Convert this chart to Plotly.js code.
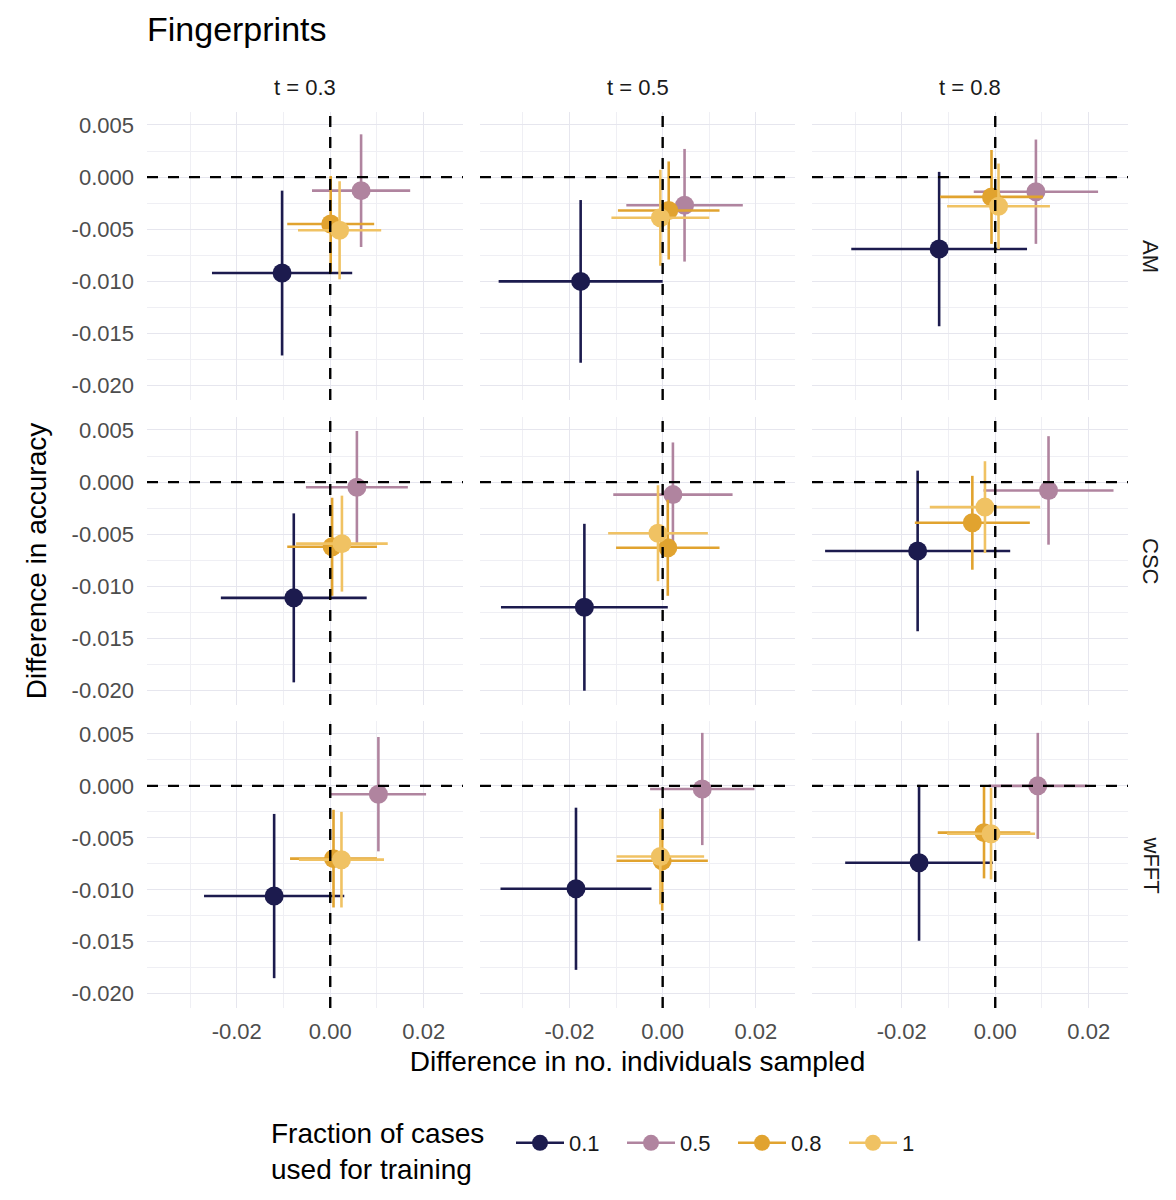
<!DOCTYPE html>
<html>
<head>
<meta charset="utf-8">
<script src="https://cdn.plot.ly/plotly-3.0.1.min.js"></script>
<style>
  html, body { margin: 0; padding: 0; background: #ffffff; }
  #chart { width: 1176px; height: 1200px; }
</style>
</head>
<body>
<div id="chart"></div>
<script>
// Facets: rows = method, columns = threshold t
const rowLabels = ['AM', 'CSC', 'wFFT'];
const colLabels = ['t = 0.3', 't = 0.5', 't = 0.8'];
const fractions = ['0.1', '0.5', '0.8', '1'];

// Panel order: AM t=0.3, AM t=0.5, AM t=0.8, CSC ..., wFFT ...
const x01  = [-0.0103, -0.0176, -0.0120, -0.0078, -0.0168, -0.0166, -0.0120, -0.0186, -0.0163];
const xe01 = [0.0150, 0.0176, 0.0188, 0.0156, 0.0179, 0.0198, 0.0150, 0.0162, 0.0158];
const y01  = [-0.0092, -0.0100, -0.0069, -0.0111, -0.0120, -0.0066, -0.0106, -0.0099, -0.0074];
const ye01 = [0.0079, 0.0078, 0.0074, 0.0081, 0.0080, 0.0077, 0.0079, 0.0078, 0.0075];

const x05  = [0.0066, 0.0047, 0.0087, 0.0057, 0.0022, 0.0114, 0.0103, 0.0085, 0.0091];
const xe05 = [0.0105, 0.0125, 0.0133, 0.0109, 0.0128, 0.0139, 0.0102, 0.0112, 0.0105];
const y05  = [-0.0013, -0.0027, -0.0014, -0.0005, -0.0012, -0.0008, -0.0008, -0.0003, 0.0000];
const ye05 = [0.0054, 0.0054, 0.0050, 0.0054, 0.0050, 0.0052, 0.0055, 0.0054, 0.0051];

const x08  = [0.0001, 0.0013, -0.0008, 0.0004, 0.0011, -0.0049, 0.0007, -0.0001, -0.0024];
const xe08 = [0.0093, 0.0109, 0.0110, 0.0096, 0.0111, 0.0123, 0.0093, 0.0098, 0.0099];
const y08  = [-0.0045, -0.0032, -0.0019, -0.0062, -0.0063, -0.0039, -0.0070, -0.0072, -0.0045];
const ye08 = [0.0046, 0.0047, 0.0045, 0.0047, 0.0046, 0.0045, 0.0047, 0.0048, 0.0044];

const x10  = [0.0020, -0.0005, 0.0007, 0.0025, -0.0010, -0.0022, 0.0024, -0.0005, -0.0009];
const xe10 = [0.0089, 0.0105, 0.0110, 0.0098, 0.0107, 0.0118, 0.0091, 0.0094, 0.0094];
const y10  = [-0.0051, -0.0039, -0.0028, -0.0059, -0.0049, -0.0024, -0.0071, -0.0068, -0.0046];
const ye10 = [0.0047, 0.0046, 0.0041, 0.0046, 0.0046, 0.0044, 0.0046, 0.0046, 0.0044];

const xTickVals = [-0.02, 0, 0.02];
const xTickText = ['-0.02', '0.00', '0.02'];
const yTickVals = [0.005, 0, -0.005, -0.010, -0.015, -0.020];
const yTickText = ['0.005', '0.000', '-0.005', '-0.010', '-0.015', '-0.020'];

const groups = [
  { x: x01, xe: xe01, y: y01, ye: ye01, color: '#1c1b4e' },
  { x: x05, xe: xe05, y: y05, ye: ye05, color: '#b0849f' },
  { x: x08, xe: xe08, y: y08, ye: ye08, color: '#e1a32f' },
  { x: x10, xe: xe10, y: y10, ye: ye10, color: '#f0c263' },
];

const W = 1176, H = 1200;
// panel boxes in pixels
const colPx = [[147, 463], [480, 795], [812, 1128]];
const rowPx = [[112, 400], [417, 705], [721, 1008]];
const xDom = (c) => [colPx[c][0] / W, colPx[c][1] / W];
const yDom = (r) => [1 - rowPx[r][1] / H, 1 - rowPx[r][0] / H];
const axId = (prefix, i) => (i === 0 ? prefix : prefix + (i + 1));

const FONT = '"Liberation Sans", Arial, sans-serif';
const gridMajor = '#e6e6ee';
const gridMinor = '#efeff4';

const traces = [];
for (let p = 0; p < 9; p++) {
  const r = Math.floor(p / 3), c = p % 3;
  groups.forEach((g, gi) => {
    // one point per trace: the line never draws in the panel, but gives the
    // legend key its horizontal bar like the ggplot key
    traces.push({
      type: 'scatter',
      mode: 'lines+markers',
      name: fractions[gi],
      legendgroup: fractions[gi],
      showlegend: p === 0,
      xaxis: axId('x', c),
      yaxis: axId('y', r),
      x: [g.x[p]],
      y: [g.y[p]],
      line: { color: g.color, width: 2.6 },
      error_x: { type: 'data', array: [g.xe[p]], color: g.color, thickness: 2.6, width: 0 },
      error_y: { type: 'data', array: [g.ye[p]], color: g.color, thickness: 2.6, width: 0 },
      marker: { size: 19, color: g.color },
      hoverinfo: 'x+y',
    });
  });
}

const xAxisBase = {
  range: [-0.0392, 0.0284],
  tickmode: 'array',
  tickvals: xTickVals,
  ticktext: xTickText,
  showgrid: true,
  gridcolor: gridMajor,
  gridwidth: 1.4,
  minor: { tickmode: 'linear', tick0: 0, dtick: 0.01, showgrid: true, gridcolor: gridMinor, gridwidth: 1 },
  zeroline: false,
  showline: false,
  ticks: '',
  ticklabelstandoff: 8,
  tickfont: { family: FONT, size: 22, color: '#4d4d4d' },
  fixedrange: true,
};
const yAxisBase = {
  range: [-0.02137, 0.00624],
  tickmode: 'array',
  tickvals: yTickVals,
  ticktext: yTickText,
  showgrid: true,
  gridcolor: gridMajor,
  gridwidth: 1.4,
  minor: { tickmode: 'linear', tick0: 0, dtick: 0.0025, showgrid: true, gridcolor: gridMinor, gridwidth: 1 },
  zeroline: false,
  showline: false,
  ticks: '',
  ticklabelstandoff: 12,
  tickfont: { family: FONT, size: 22, color: '#4d4d4d' },
  fixedrange: true,
};

const layout = {
  width: W,
  height: H,
  margin: { l: 0, r: 0, t: 0, b: 0 },
  paper_bgcolor: '#ffffff',
  plot_bgcolor: '#ffffff',
  font: { family: FONT, color: '#000000' },
  title: {
    text: 'Fingerprints',
    font: { family: FONT, size: 34, color: '#000000' },
    x: 147 / W, xanchor: 'left', xref: 'paper',
    y: 1 - 29 / H, yanchor: 'middle',
  },
  showlegend: true,
  legend: {
    orientation: 'h',
    x: 511 / W, xanchor: 'left',
    y: 1 - 1143 / H, yanchor: 'middle',
    font: { family: FONT, size: 22, color: '#1a1a1a' },
    itemwidth: 48,
    entrywidth: 48,
    bgcolor: 'rgba(0,0,0,0)',
  },
  shapes: [],
  annotations: [
    {
      text: 'Fraction of cases<br>used for training',
      showarrow: false, align: 'left',
      xref: 'paper', yref: 'paper',
      x: 269 / W, y: 1 - 1151 / H,
      xanchor: 'left', yanchor: 'middle',
      font: { family: FONT, size: 28, color: '#000000' },
    },
  ],
};

for (let c = 0; c < 3; c++) {
  layout[axId('xaxis', c)] = Object.assign({}, xAxisBase, { domain: xDom(c), anchor: 'y3' });
}
for (let r = 0; r < 3; r++) {
  layout[axId('yaxis', r)] = Object.assign({}, yAxisBase, { domain: yDom(r), anchor: 'x' });
}
layout.xaxis2.title = {
  text: 'Difference in no. individuals sampled',
  font: { family: FONT, size: 28, color: '#000000' },
  standoff: 8,
};
layout.yaxis2.title = {
  text: 'Difference in accuracy',
  font: { family: FONT, size: 28, color: '#000000' },
  standoff: 16,
};

// dashed reference lines at zero in every panel
for (let r = 0; r < 3; r++) {
  for (let c = 0; c < 3; c++) {
    const xa = axId('x', c), ya = axId('y', r);
    layout.shapes.push({
      type: 'line', layer: 'above',
      xref: xa, yref: ya + ' domain',
      x0: 0, x1: 0, y0: 0, y1: 1,
      line: { color: '#000000', width: 2.4, dash: '11px,10px' },
    });
    layout.shapes.push({
      type: 'line', layer: 'above',
      xref: xa + ' domain', yref: ya,
      x0: 0, x1: 1, y0: 0, y1: 0,
      line: { color: '#000000', width: 2.4, dash: '11px,10px' },
    });
  }
}

// strip labels
colLabels.forEach((t, c) => {
  layout.annotations.push({
    text: t, showarrow: false,
    xref: 'paper', yref: 'paper',
    x: (xDom(c)[0] + xDom(c)[1]) / 2, y: 1 - 87 / H,
    xanchor: 'center', yanchor: 'middle',
    font: { family: FONT, size: 22, color: '#1a1a1a' },
  });
});
rowLabels.forEach((t, r) => {
  layout.annotations.push({
    text: t, showarrow: false, textangle: 90,
    xref: 'paper', yref: 'paper',
    x: 1151 / W, y: (yDom(r)[0] + yDom(r)[1]) / 2,
    xanchor: 'center', yanchor: 'middle',
    font: { family: FONT, size: 22, color: '#1a1a1a' },
  });
});

Plotly.newPlot('chart', traces, layout, { displayModeBar: false, responsive: false });
</script>
</body>
</html>
